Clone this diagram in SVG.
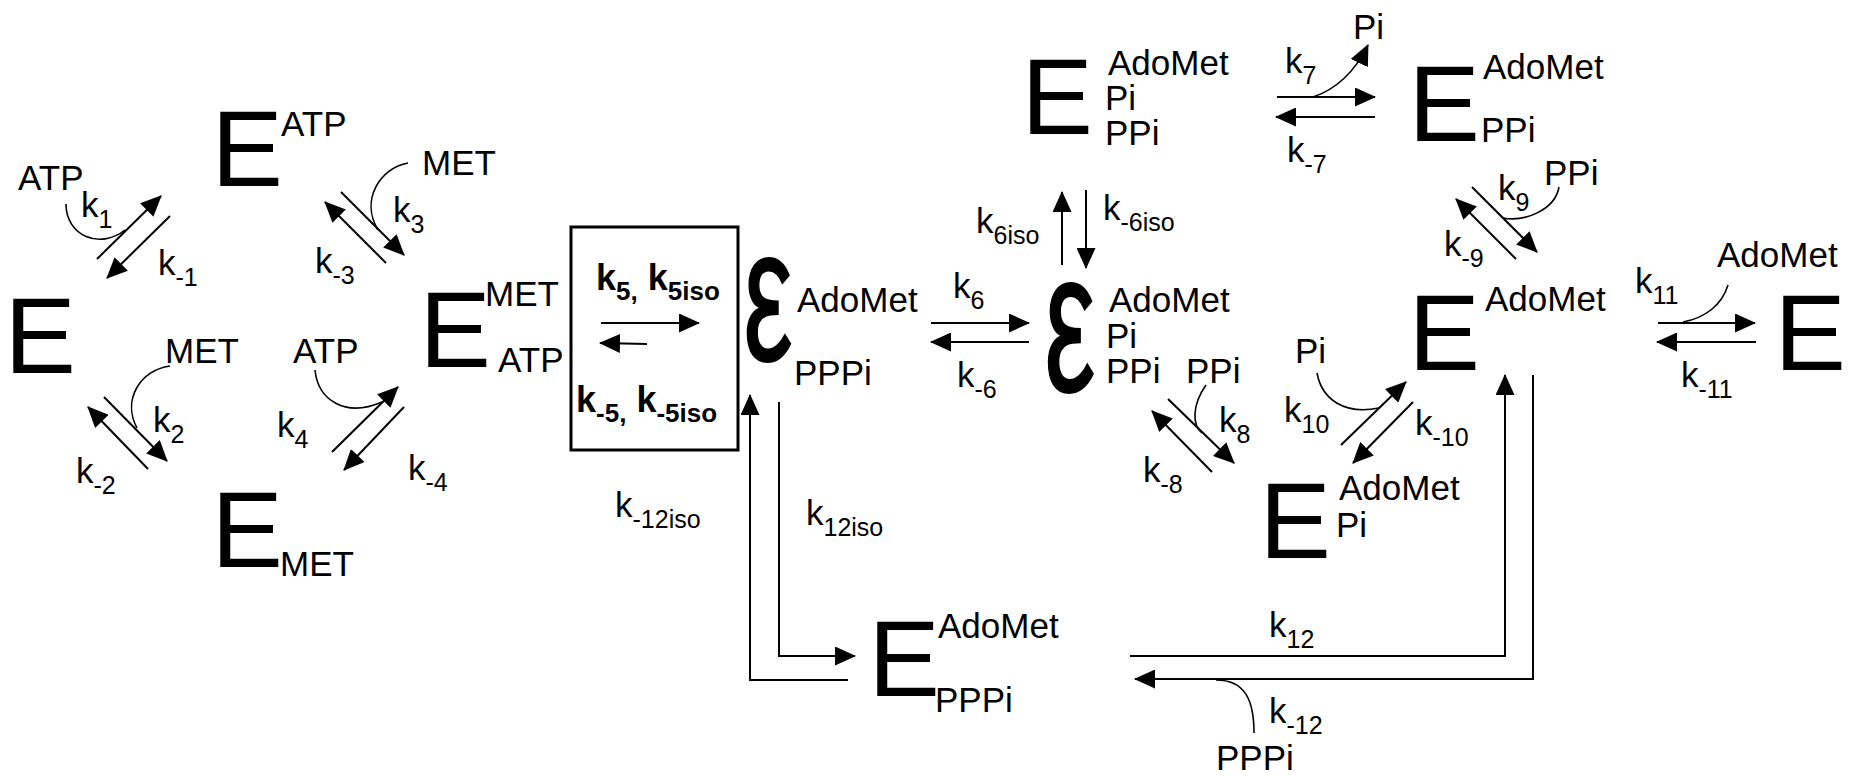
<svg xmlns="http://www.w3.org/2000/svg" width="1852" height="778" viewBox="0 0 1852 778">
<defs>
<style>
.t{font-family:"Liberation Sans",Arial,sans-serif;font-size:35px;fill:#000}
.b{font-weight:bold;font-size:36px}
.big{font-family:"Liberation Sans",Arial,sans-serif;font-size:107px;fill:#000}
.eps{font-family:"Liberation Sans",Arial,sans-serif;fill:#000;stroke:#000;stroke-width:2;text-anchor:middle}
.s{font-size:25px}
.bs{font-size:26px}
.ln{stroke:#000;stroke-width:2;fill:none}
.cv{stroke:#000;stroke-width:1.6;fill:none}
.a{marker-end:url(#ah)}
</style>
<marker id="ah" markerWidth="21" markerHeight="19" refX="20" refY="9.5" orient="auto" markerUnits="userSpaceOnUse"><path d="M0,0 L21,9.5 L0,19 z" fill="#000"/></marker>
</defs>
<rect width="1852" height="778" fill="#fff"/>

<g id="E_free"><text class="big" x="4.5" y="373">E</text></g>
<g id="E_ATP"><text class="big" x="211.5" y="186">E</text><text class="t" x="281" y="136">ATP</text></g>
<g id="E_MET"><text class="big" x="211.5" y="567">E</text><text class="t" x="280" y="576">MET</text></g>
<g id="E_MET_ATP"><text class="big" x="419.5" y="367">E</text><text class="t" x="485" y="306">MET</text><text class="t" x="498" y="372">ATP</text></g>
<g id="box_k5"><rect x="571" y="227" width="167" height="223" fill="none" stroke="#000" stroke-width="3"/>
<text class="t b" x="596" y="290">k<tspan class="bs" dy="10">5,</tspan><tspan dy="-10"> k</tspan><tspan class="bs" dy="10">5iso</tspan></text>
<text class="t b" x="576" y="412">k<tspan class="bs" dy="10">-5,</tspan><tspan dy="-10"> k</tspan><tspan class="bs" dy="10">-5iso</tspan></text></g>
<g id="Eps_AdoMet_PPPi"><text class="eps" font-size="190" transform="translate(768,360) scale(0.58,1)">ε</text><text class="t" x="797" y="312">AdoMet</text><text class="t" x="794" y="385">PPPi</text></g>
<g id="Eps_AdoMet_Pi_PPi"><text class="eps" font-size="200" transform="translate(1070,391) scale(0.57,1)">ε</text><text class="t" x="1109" y="312">AdoMet</text><text class="t" x="1106" y="348">Pi</text><text class="t" x="1106" y="383">PPi</text></g>
<g id="E_AdoMet_Pi_PPi"><text class="big" x="1021.5" y="134">E</text><text class="t" x="1108" y="75">AdoMet</text><text class="t" x="1105" y="110">Pi</text><text class="t" x="1105" y="145">PPi</text></g>
<g id="E_AdoMet_PPi"><text class="big" x="1408.5" y="141">E</text><text class="t" x="1483" y="79">AdoMet</text><text class="t" x="1481" y="142">PPi</text></g>
<g id="E_AdoMet"><text class="big" x="1408.5" y="370">E</text><text class="t" x="1485" y="311">AdoMet</text></g>
<g id="E_free_right"><text class="big" x="1774.5" y="370">E</text></g>
<g id="E_AdoMet_Pi"><text class="big" x="1259.5" y="558">E</text><text class="t" x="1339" y="500">AdoMet</text><text class="t" x="1336" y="537">Pi</text></g>
<g id="E_AdoMet_PPPi"><text class="big" x="868.5" y="696">E</text><text class="t" x="938" y="638">AdoMet</text><text class="t" x="935" y="712">PPPi</text></g>

<g id="connectors">
<path class="ln a" d="M97,259 L161,196"/>
<path class="ln a" d="M170,216 L107,278"/>
<path class="cv" d="M66,204 C66,236 100,250 125,230"/>
<path class="ln a" d="M104,397 L167,461"/>
<path class="ln a" d="M148,469 L88,407"/>
<path class="cv" d="M170,366 C140,370 122,400 137,428"/>
<path class="ln a" d="M341,192 L404,255"/>
<path class="ln a" d="M386,263 L325,202"/>
<path class="cv" d="M408,163 C380,168 360,200 378,230"/>
<path class="ln a" d="M332,452 L398,387"/>
<path class="ln a" d="M404,407 L344,470"/>
<path class="cv" d="M315,370 C318,400 345,418 382,402"/>
<path class="ln a" d="M601,323 L699,323"/>
<path class="ln a" d="M647,344 L600,343"/>
<path class="ln a" d="M931,323 L1029,323"/>
<path class="ln a" d="M1029,342 L931,342"/>
<path class="ln a" d="M1062,265 L1062,192"/>
<path class="ln a" d="M1086,190 L1086,268"/>
<path class="ln a" d="M1277,97 L1375,97"/>
<path class="ln a" d="M1375,117 L1276,117"/>
<path class="cv a" d="M1313,97 C1335,90 1355,72 1368,45"/>
<path class="ln a" d="M1168,399 L1234,463"/>
<path class="ln a" d="M1212,472 L1152,411"/>
<path class="cv" d="M1206,385 C1192,405 1192,425 1202,433"/>
<path class="ln a" d="M1341,445 L1406,382"/>
<path class="ln a" d="M1413,402 L1353,463"/>
<path class="cv" d="M1317,373 C1322,400 1345,415 1379,408"/>
<path class="ln a" d="M1472,187 L1537,252"/>
<path class="ln a" d="M1516,259 L1456,199"/>
<path class="cv" d="M1559,187 C1555,210 1525,222 1503,218"/>
<path class="ln a" d="M1658,323 L1755,323"/>
<path class="ln a" d="M1756,342 L1657,342"/>
<path class="cv" d="M1728,285 C1722,305 1705,318 1683,322"/>
<path class="ln a" d="M1130,656 H1505 V375"/>
<path class="ln a" d="M1533,375 V679 H1135"/>
<path class="cv" d="M1254,733 C1254,700 1245,680 1216,680"/>
<path class="ln a" d="M779,402 V656 H855"/>
<path class="ln a" d="M848,680 H750 V395"/>
</g>

<g id="labels">
<text class="t" x="18" y="190">ATP</text>
<text class="t" x="422" y="175">MET</text>
<text class="t" x="165" y="363">MET</text>
<text class="t" x="293" y="363">ATP</text>
<text class="t" x="1353" y="39">Pi</text>
<text class="t" x="1186" y="383">PPi</text>
<text class="t" x="1295" y="363">Pi</text>
<text class="t" x="1544" y="185">PPi</text>
<text class="t" x="1717" y="267">AdoMet</text>
<text class="t" x="1216" y="770">PPPi</text>
<text class="t" x="81" y="217">k<tspan class="s" dy="11">1</tspan></text>
<text class="t" x="158" y="275">k<tspan class="s" dy="11">-1</tspan></text>
<text class="t" x="153" y="432">k<tspan class="s" dy="11">2</tspan></text>
<text class="t" x="76" y="483">k<tspan class="s" dy="11">-2</tspan></text>
<text class="t" x="393" y="222">k<tspan class="s" dy="11">3</tspan></text>
<text class="t" x="315" y="273">k<tspan class="s" dy="11">-3</tspan></text>
<text class="t" x="277" y="437">k<tspan class="s" dy="11">4</tspan></text>
<text class="t" x="408" y="480">k<tspan class="s" dy="11">-4</tspan></text>
<text class="t" x="953" y="298">k<tspan class="s" dy="11">6</tspan></text>
<text class="t" x="957" y="387">k<tspan class="s" dy="11">-6</tspan></text>
<text class="t" x="976" y="233">k<tspan class="s" dy="11">6iso</tspan></text>
<text class="t" x="1103" y="220">k<tspan class="s" dy="11">-6iso</tspan></text>
<text class="t" x="1285" y="73">k<tspan class="s" dy="11">7</tspan></text>
<text class="t" x="1287" y="162">k<tspan class="s" dy="11">-7</tspan></text>
<text class="t" x="1219" y="432">k<tspan class="s" dy="11">8</tspan></text>
<text class="t" x="1143" y="482">k<tspan class="s" dy="11">-8</tspan></text>
<text class="t" x="1498" y="200">k<tspan class="s" dy="11">9</tspan></text>
<text class="t" x="1444" y="256">k<tspan class="s" dy="11">-9</tspan></text>
<text class="t" x="1284" y="422">k<tspan class="s" dy="11">10</tspan></text>
<text class="t" x="1415" y="435">k<tspan class="s" dy="11">-10</tspan></text>
<text class="t" x="1635" y="293">k<tspan class="s" dy="11">11</tspan></text>
<text class="t" x="1681" y="387">k<tspan class="s" dy="11">-11</tspan></text>
<text class="t" x="1269" y="637">k<tspan class="s" dy="11">12</tspan></text>
<text class="t" x="1269" y="723">k<tspan class="s" dy="11">-12</tspan></text>
<text class="t" x="806" y="525">k<tspan class="s" dy="11">12iso</tspan></text>
<text class="t" x="615" y="517">k<tspan class="s" dy="11">-12iso</tspan></text>
</g>
</svg>
